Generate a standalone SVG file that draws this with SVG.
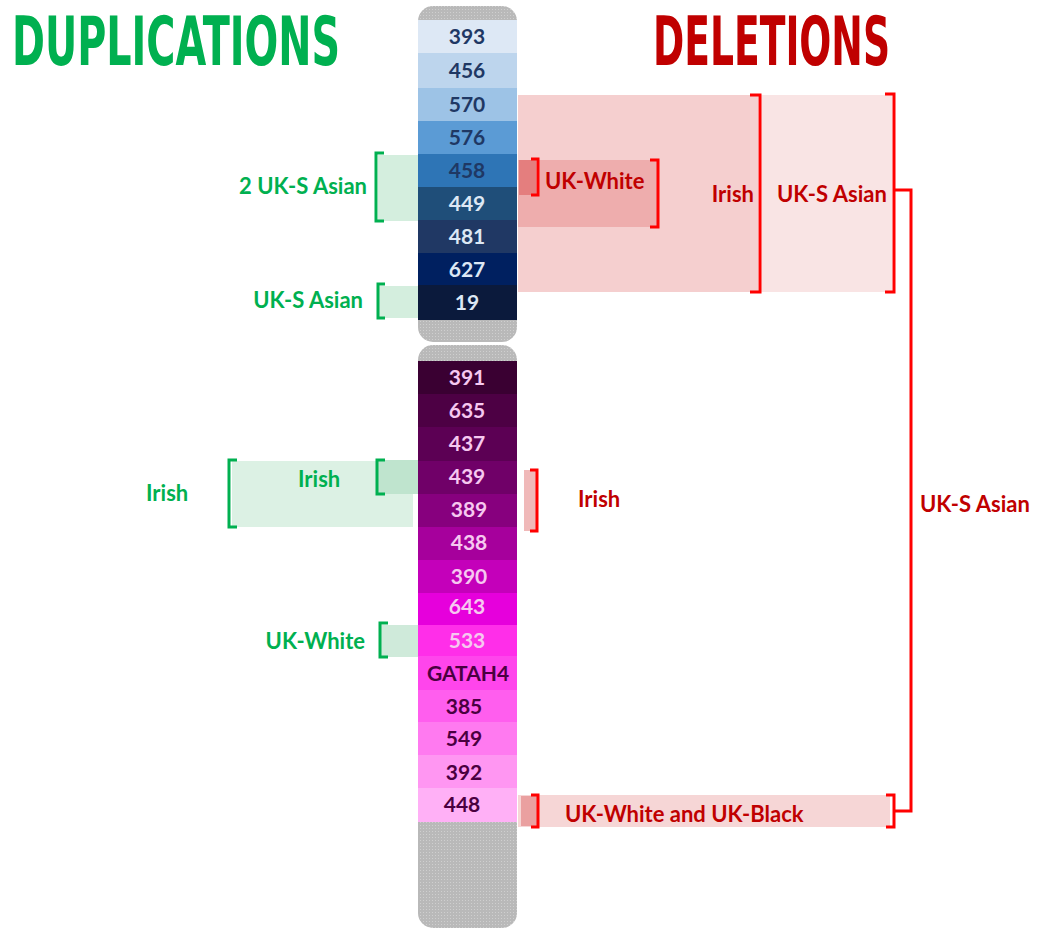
<svg xmlns="http://www.w3.org/2000/svg" width="1041" height="930" viewBox="0 0 1041 930">
<style>
.title{font-family:"Liberation Sans Narrow","DejaVu Sans Condensed","Liberation Sans",sans-serif;font-weight:bold;font-size:53px}
.band{font-family:Lato,"Liberation Sans",sans-serif;font-weight:bold;font-size:21px;text-anchor:middle}
.lbl{font-family:Lato,"Liberation Sans",sans-serif;font-weight:bold;font-size:22px}
.g{fill:#00b050}
.r{fill:#c00000}
.gb{fill:none;stroke:#00b050;stroke-width:3}
.rb{fill:none;stroke:#ff0000;stroke-width:3}
.lt{fill:#dde8f5}
.dk{fill:#1f3864}
.pl{fill:#f6c8f0}
.pd{fill:#4a0040}
</style>
<defs>
<pattern id="dots" width="3" height="3" patternUnits="userSpaceOnUse">
<rect width="3" height="3" fill="#b9b9b9"/>
<rect width="1" height="1" fill="#cfcfcf"/>
</pattern>
</defs>
<rect width="1041" height="930" fill="#ffffff"/>
<g id="titles">
<text class="title g" transform="translate(12,65) scale(1,1.27)" x="0" y="0" textLength="328" lengthAdjust="spacingAndGlyphs">DUPLICATIONS</text>
<text class="title r" transform="translate(653,65) scale(1,1.27)" x="0" y="0" textLength="237" lengthAdjust="spacingAndGlyphs">DELETIONS</text>
</g>

<g id="shades">
<rect x="518" y="95" width="240" height="197" fill="#f5cfcf"/>
<rect x="761" y="95" width="131" height="197" fill="#f9e4e4"/>
<rect x="518" y="160" width="139" height="67" fill="#eeadad"/>
<rect x="519" y="160" width="17" height="35" fill="#e47e7e"/>
<rect x="524" y="470" width="12" height="61" fill="#f0b9b9"/>
<rect x="518" y="795" width="372" height="32" fill="#f6d6d6"/>
<rect x="521" y="796" width="16" height="30" fill="#eaa0a0"/>
<rect x="378" y="155" width="40" height="66" fill="#d4eede"/>
<rect x="378" y="286" width="40" height="32" fill="#d4eede"/>
<rect x="232" y="461" width="181" height="66" fill="#dcf1e4"/>
<rect x="378" y="460" width="40" height="34" fill="#bfe4ce"/>
<rect x="381" y="625" width="37" height="32" fill="#cfeada"/>
</g>

<g id="chromosome-top">
<rect x="418" y="6" width="99" height="336" rx="15" fill="url(#dots)"/>
<rect x="418" y="20" width="99" height="33" fill="#dde8f5"/>
<rect x="418" y="53" width="99" height="35" fill="#bdd5ed"/>
<rect x="418" y="88" width="99" height="33" fill="#9dc3e6"/>
<rect x="418" y="121" width="99" height="33" fill="#5b9bd5"/>
<rect x="418" y="154" width="99" height="33" fill="#2e75b6"/>
<rect x="418" y="187" width="99" height="33" fill="#1f4e79"/>
<rect x="418" y="220" width="99" height="33" fill="#203864"/>
<rect x="418" y="253" width="99" height="32" fill="#002060"/>
<rect x="418" y="285" width="99" height="35" fill="#0b1a3c"/>
<text class="band dk" x="467" y="44">393</text>
<text class="band dk" x="467" y="78">456</text>
<text class="band dk" x="467" y="112">570</text>
<text class="band dk" x="467" y="145">576</text>
<text class="band dk" x="467" y="178">458</text>
<text class="band lt" x="467" y="211">449</text>
<text class="band lt" x="467" y="244">481</text>
<text class="band lt" x="467" y="277">627</text>
<text class="band lt" x="467" y="310">19</text>
</g>

<g id="chromosome-bottom">
<rect x="418" y="345" width="99" height="583" rx="15" fill="url(#dots)"/>
<rect x="418" y="361" width="99" height="33" fill="#3a0032"/>
<rect x="418" y="394" width="99" height="33" fill="#4d0044"/>
<rect x="418" y="427" width="99" height="34" fill="#5c0054"/>
<rect x="418" y="461" width="99" height="33" fill="#700068"/>
<rect x="418" y="494" width="99" height="33" fill="#87007e"/>
<rect x="418" y="527" width="99" height="33" fill="#a6009c"/>
<rect x="418" y="560" width="99" height="33" fill="#c400ba"/>
<rect x="418" y="593" width="99" height="32" fill="#e600dc"/>
<rect x="418" y="625" width="99" height="31" fill="#ff2ee9"/>
<rect x="418" y="656" width="99" height="34" fill="#ff45ec"/>
<rect x="418" y="690" width="99" height="32" fill="#ff5eee"/>
<rect x="418" y="722" width="99" height="33" fill="#ff7af0"/>
<rect x="418" y="755" width="99" height="33" fill="#ff96f2"/>
<rect x="418" y="788" width="99" height="34" fill="#ffb0f6"/>
<text class="band pl" x="467" y="385">391</text>
<text class="band pl" x="467" y="418">635</text>
<text class="band pl" x="467" y="451">437</text>
<text class="band pl" x="467" y="484">439</text>
<text class="band pl" x="469" y="517">389</text>
<text class="band pl" x="469" y="550">438</text>
<text class="band pl" x="469" y="584">390</text>
<text class="band pl" x="467" y="614">643</text>
<text class="band pl" x="467" y="648">533</text>
<text class="band pd" x="468" y="681">GATAH4</text>
<text class="band pd" x="464" y="714">385</text>
<text class="band pd" x="464" y="746">549</text>
<text class="band pd" x="464" y="780">392</text>
<text class="band pd" x="462" y="812">448</text>
</g>

<g id="connectors">
<path class="gb" d="M384,153 H376 V221 H384"/>
<path class="gb" d="M385,284 H378 V318 H385"/>
<path class="gb" d="M237,460 H229 V527 H237"/>
<path class="gb" d="M385,460 H377 V494 H385"/>
<path class="gb" d="M388,623 H380 V657 H388"/>
<path class="rb" d="M750,95 H760 V292 H750"/>
<path class="rb" d="M885,94 H894 V292 H885"/>
<path class="rb" d="M531,159 H538 V195 H531"/>
<path class="rb" d="M650,160 H658 V227 H650"/>
<path class="rb" d="M530,470 H537 V531 H530"/>
<path class="rb" d="M531,795 H538 V827 H531"/>
<path class="rb" d="M886,795 H894 V827 H886"/>
<path class="rb" d="M894,190 H911 V811 H894"/>
</g>

<g id="labels">
<text class="lbl g" x="367" y="194" text-anchor="end">2 UK-S Asian</text>
<text class="lbl g" x="363" y="308" text-anchor="end">UK-S Asian</text>
<text class="lbl g" x="146" y="501">Irish</text>
<text class="lbl g" x="298" y="487">Irish</text>
<text class="lbl g" x="365" y="649" text-anchor="end">UK-White</text>
<text class="lbl r" x="545" y="189">UK-White</text>
<text class="lbl r" x="754" y="202" text-anchor="end">Irish</text>
<text class="lbl r" x="777" y="202">UK-S Asian</text>
<text class="lbl r" x="578" y="507">Irish</text>
<text class="lbl r" x="565" y="822">UK-White and UK-Black</text>
<text class="lbl r" x="920" y="512">UK-S Asian</text>
</g>
</svg>
